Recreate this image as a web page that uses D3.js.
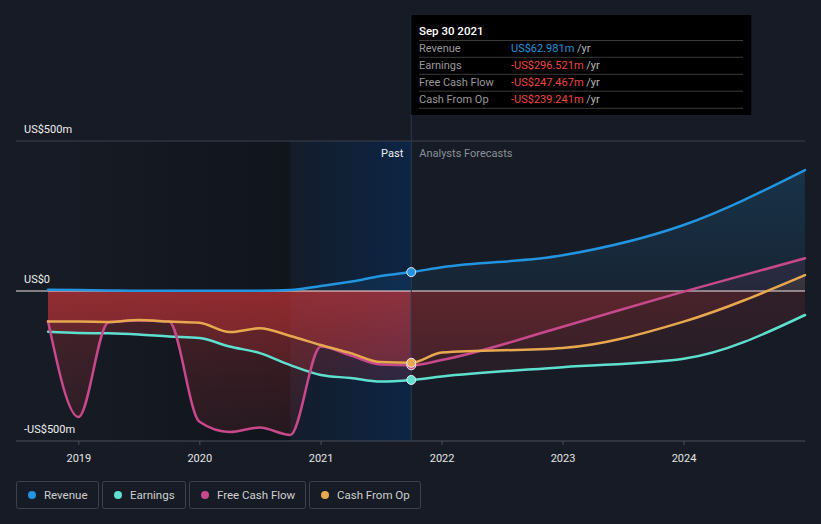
<!DOCTYPE html>
<html><head><meta charset="utf-8">
<script src="https://cdn.jsdelivr.net/npm/d3@7"></script>
<style>
html,body{margin:0;padding:0;background:#161b25;}
svg{display:block;font-family:Roboto,"Open Sans",sans-serif;}
</style></head>
<body><svg id="c" width="821" height="524"></svg>
<script>
// ---- data ----
const pastDates = ["2018-09-30","2018-12-31","2019-03-31","2019-06-30","2019-09-30","2019-12-31","2020-03-31","2020-06-30","2020-09-30","2020-12-31","2021-03-31","2021-06-30","2021-09-30"];
const forecastDates = ["2021-09-30","2021-12-31","2022-12-31","2023-12-31","2024-12-31"];
const revenuePast = [4, 3, 2, 1, 1, 1, 1, 1, 3, 17, 31, 50, 62.981];
const earningsPast = [-136, -140, -141, -145, -152, -157, -185, -207, -247, -280, -290, -302, -296.521];
const fcfPast = [-100, -420, -105, -98, -102, -436, -470, -455, -480, -185, -215, -245, -247.467];
const cfoPast = [-102, -102, -103, -97, -102, -106, -137, -124, -150, -180, -207, -237, -239.241];
const revenueFc = [62.981, 79, 119, 220, 403];
const earningsFc = [-296.521, -285, -254, -226, -80];
const fcfFc = [-247.467, -230, -119, -2, 109];
const cfoFc = [-239.241, -205, -190, -102, 53];
const yTicks = [500, 0, -500];
const yTickLabels = ["US$500m", "US$0", "-US$500m"];
const seriesNames = ["Revenue", "Earnings", "Free Cash Flow", "Cash From Op"];
const seriesColors = ["#2394df", "#5fe0cf", "#c8498b", "#e8a84f"];
const tooltipTitle = "Sep 30 2021";
const tooltipValues = ["US$62.981m", "-US$296.521m", "-US$247.467m", "-US$239.241m"];

// ---- setup ----
const svg = d3.select("#c");
const W = 821, H = 524;
const parse = d3.timeParse("%Y-%m-%d");
const pd = pastDates.map(parse), fd = forecastDates.map(parse);
const plotL = 16, plotR = 805, plotT = 141, plotB = 441;
const x = d3.scaleTime().domain([pd[0], fd[fd.length-1]]).range([48, 805]);
const y = d3.scaleLinear().domain([-500, 500]).range([plotB, plotT]);
const now = pd[pd.length-1];
const xNow = x(now);
const xYearAgo = x(parse("2020-09-30"));

const defs = svg.append("defs");
function lg(id, x1, y1, x2, y2, stops){
  const g = defs.append("linearGradient").attr("id", id).attr("gradientUnits","userSpaceOnUse")
    .attr("x1",x1).attr("y1",y1).attr("x2",x2).attr("y2",y2);
  stops.forEach(s=>g.append("stop").attr("offset",s[0]).attr("stop-color",s[1]).attr("stop-opacity",s[2]));
}
lg("darkPast", x(pd[0]), 0, xYearAgo, 0, [[0,"#000",0],[1,"#000",0.25]]);
lg("bluePast", xYearAgo, 0, xNow, 0, [[0,"#0b2547",0.15],[1,"#0b2547",0.95]]);
lg("redPast", 0, y(0), 0, y(-500), [[0,"#e5393b",0.26],[1,"#e5393b",0.09]]);
lg("redFc", 0, y(0), 0, y(-500), [[0,"#e5393b",0.13],[1,"#e5393b",0.04]]);
seriesColors.forEach((c,i)=>{
  lg("pos"+i, 0, y(500), 0, y(0), [[0,c,0.22],[1,c,0.08]]);
});
defs.append("clipPath").attr("id","clipNeg").append("rect").attr("x",0).attr("y",y(0)).attr("width",W).attr("height",plotB-y(0));
defs.append("clipPath").attr("id","clipPos").append("rect").attr("x",0).attr("y",plotT).attr("width",W).attr("height",y(0)-plotT);

// background shading regions
svg.append("rect").attr("x",x(pd[0])).attr("y",plotT).attr("width",xYearAgo-x(pd[0])).attr("height",plotB-plotT).attr("fill","url(#darkPast)");
svg.append("rect").attr("x",xYearAgo).attr("y",plotT).attr("width",xNow-xYearAgo).attr("height",plotB-plotT).attr("fill","url(#bluePast)");

// top gridline
svg.append("line").attr("x1",plotL).attr("x2",plotR).attr("y1",y(500)).attr("y2",y(500)).attr("stroke","#3c414c").attr("stroke-width",1);

// series
const pastSeries = [revenuePast, earningsPast, fcfPast, cfoPast];
const fcSeries = [revenueFc, earningsFc, fcfFc, cfoFc];
const curve = d3.curveMonotoneX;
const lineGen = d3.line().x(d=>x(d.d)).y(d=>y(d.v)).curve(curve);
const areaGen = d3.area().x(d=>x(d.d)).y0(y(0)).y1(d=>y(d.v)).curve(curve);
const allData = pastSeries.map((s,i)=>{
  const past = s.map((v,j)=>({d:pd[j], v}));
  const fc = fcSeries[i].map((v,j)=>({d:fd[j], v}));
  return {past, fc, all: past.concat(fc.slice(1))};
});

const areas = svg.append("g");
allData.forEach((s,i)=>{
  areas.append("path").attr("d",areaGen(s.past)).attr("fill","url(#redPast)").attr("clip-path","url(#clipNeg)");
  areas.append("path").attr("d",areaGen(s.fc)).attr("fill","url(#redFc)").attr("clip-path","url(#clipNeg)");
  areas.append("path").attr("d",areaGen(s.all)).attr("fill","url(#pos"+i+")").attr("clip-path","url(#clipPos)");
});

// zero line
svg.append("line").attr("x1",plotL).attr("x2",plotR).attr("y1",y(0)).attr("y2",y(0)).attr("stroke","#f3e3e3").attr("stroke-width",1);

// now vertical line
svg.append("line").attr("x1",xNow).attr("x2",xNow).attr("y1",15).attr("y2",plotB).attr("stroke","#2a3a52").attr("stroke-width",1);

// lines
const lines = svg.append("g");
[1,2,3,0].forEach(i=>{
  lines.append("path").attr("d",lineGen(allData[i].all)).attr("fill","none")
    .attr("stroke",seriesColors[i]).attr("stroke-width",2.5).attr("stroke-linecap","round");
});
// markers
[0,2,3,1].forEach(i=>{
  const last = allData[i].past[allData[i].past.length-1];
  svg.append("circle").attr("cx",x(last.d)).attr("cy",y(last.v)).attr("r",4.5)
    .attr("fill",seriesColors[i]).attr("stroke","#e8e8f0").attr("stroke-width",1);
});

// axes
const xAxisG = svg.append("g");
xAxisG.append("line").attr("x1",plotL).attr("x2",plotR).attr("y1",plotB).attr("y2",plotB).attr("stroke","#4a4f59").attr("stroke-width",1);
const xt = x.ticks(d3.timeYear.every(1)).filter(d=>x(d)>plotL && x(d)<plotR);
xt.forEach(d=>{
  xAxisG.append("line").attr("x1",x(d)).attr("x2",x(d)).attr("y1",plotB).attr("y2",plotB+4).attr("stroke","#4a4f59");
  xAxisG.append("text").attr("x",x(d)).attr("y",458).attr("dy","0.35em").attr("text-anchor","middle")
    .attr("fill","#e6e6e6").attr("font-size",11).text(d3.timeFormat("%Y")(d));
});
yTicks.forEach((v,i)=>{
  svg.append("text").attr("x",24).attr("y",y(v)-8).attr("fill","#f0f0f0").attr("font-size",11).text(yTickLabels[i]);
});

// Past / Analysts Forecasts
svg.append("text").attr("x",xNow-8).attr("y",153).attr("dy","0.35em").attr("text-anchor","end").attr("fill","#f0f0f0").attr("font-size",11).text("Past");
svg.append("text").attr("x",xNow+8).attr("y",153).attr("dy","0.35em").attr("fill","#8c9099").attr("font-size",11).text("Analysts Forecasts");

// tooltip
const tt = svg.append("g");
tt.append("rect").attr("x",xNow).attr("y",15).attr("width",340).attr("height",100).attr("fill","#000");
tt.append("text").attr("x",419).attr("y",31).attr("dy","0.35em").attr("fill","#fff").attr("font-size",11.5).attr("font-weight",500).text(tooltipTitle);
const rowY = [48.3, 65.2, 82, 98.8];
[40.5, 57.3, 74.3, 91.2, 108.3].forEach(yy=>{
  tt.append("line").attr("x1",419).attr("x2",743).attr("y1",yy).attr("y2",yy).attr("stroke","#3a3a3a").attr("stroke-width",1);
});
seriesNames.forEach((n,i)=>{
  tt.append("text").attr("x",419).attr("y",rowY[i]).attr("dy","0.35em").attr("fill","#9a9a9a").attr("font-size",11).text(n);
  const t = tt.append("text").attr("x",511).attr("y",rowY[i]).attr("dy","0.35em").attr("font-size",11);
  t.append("tspan").attr("fill", i===0 ? "#2394df" : "#f0453d").text(tooltipValues[i]);
  t.append("tspan").attr("fill","#b8b8b8").text(" /yr");
});

// legend
const legBoxes = [[16,82],[102,83],[189,116],[309,111]];
seriesNames.forEach((n,i)=>{
  const [bx,bw] = legBoxes[i];
  const g = svg.append("g");
  g.append("rect").attr("x",bx+0.5).attr("y",481.5).attr("width",bw).attr("height",27).attr("rx",2)
    .attr("fill","none").attr("stroke","#3c414b");
  g.append("circle").attr("cx",bx+16).attr("cy",495).attr("r",4).attr("fill",seriesColors[i]);
  g.append("text").attr("x",bx+28).attr("y",495).attr("dy","0.35em").attr("fill","#d0d0d0").attr("font-size",11.5).text(n);
});
</script></body></html>
